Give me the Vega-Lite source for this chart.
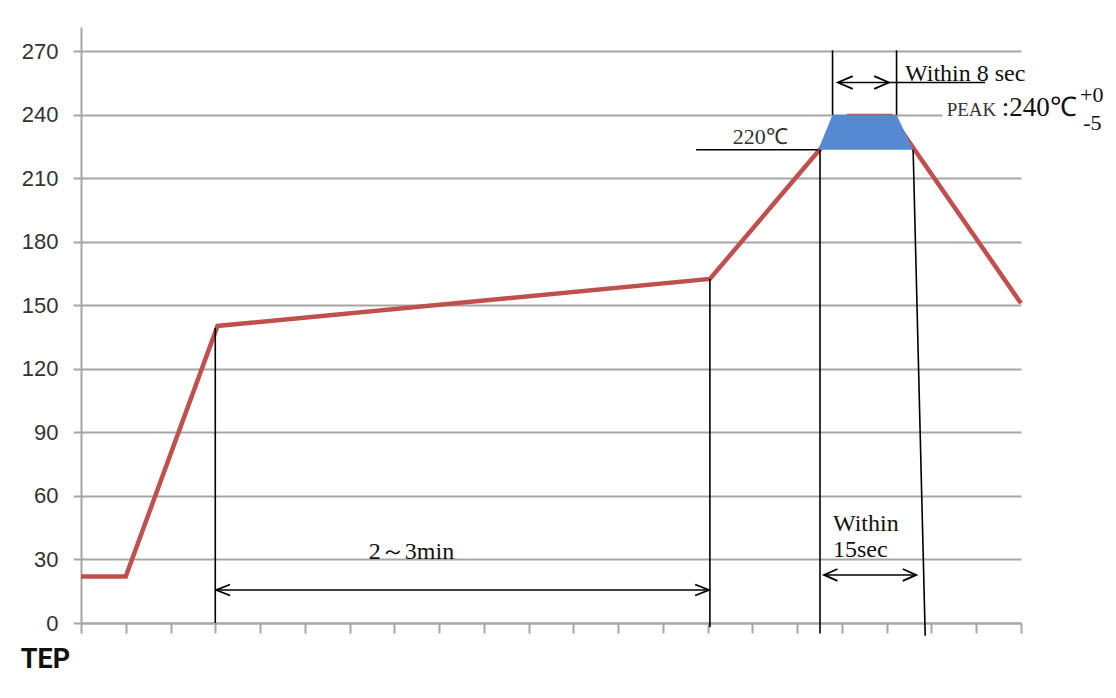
{
  "$schema": "https://vega.github.io/schema/vega-lite/v6.json",
  "width": 940,
  "height": 596,
  "autosize": {"type": "none"},
  "padding": {"left": 81, "top": 27, "right": 95, "bottom": 75},
  "background": "white",
  "config": {"view": {"stroke": null}},
  "layer": [
    {
      "data": {"values": [
        {"t": 0, "temp": 22}, {"t": 1, "temp": 22}, {"t": 3.05, "temp": 140.3},
        {"t": 14.05, "temp": 162.5}, {"t": 17.14, "temp": 239.5}, {"t": 18.1, "temp": 239.5},
        {"t": 21, "temp": 151}
      ]},
      "mark": {"type": "line", "color": "#c0504d", "strokeWidth": 4.5, "strokeJoin": "miter"},
      "encoding": {
        "x": {"field": "t", "type": "quantitative",
          "scale": {"domain": [0, 21], "nice": false, "zero": false},
          "axis": {"values": [0,1,2,3,4,5,6,7,8,9,10,11,12,13,14,15,16,17,18,19,20,21],
            "labels": false, "grid": false, "tickSize": 10, "tickColor": "#a6a6a6", "tickWidth": 2,
            "domainColor": "#a6a6a6", "domainWidth": 2,
            "title": "TEP", "titleX": -36, "titleY": 36, "titleAlign": "center", "titleBaseline": "middle",
            "titleFont": "Roboto", "titleFontWeight": "bold", "titleFontSize": 27, "titleColor": "#111111"}},
        "y": {"field": "temp", "type": "quantitative",
          "scale": {"domain": [0, 281.5], "nice": false, "zero": false},
          "axis": {"values": [0,30,60,90,120,150,180,210,240,270], "grid": true, "gridColor": "#a6a6a6", "gridWidth": 2,
            "tickSize": 8, "tickColor": "#a6a6a6", "tickWidth": 2, "domainColor": "#a6a6a6", "domainWidth": 2,
            "labelFont": "Liberation Sans", "labelFontSize": 22, "labelColor": "#333333", "labelPadding": 15, "title": null}}
      }
    },
    {
      "data": {"values": [
        {"t": 16.47, "top": 223.5, "base": 223.5}, {"t": 16.79, "top": 240, "base": 223.5},
        {"t": 18.22, "top": 240, "base": 223.5}, {"t": 18.59, "top": 223.5, "base": 223.5}
      ]},
      "mark": {"type": "area", "color": "#558ad3", "opacity": 1},
      "encoding": {
        "x": {"field": "t", "type": "quantitative"},
        "y": {"field": "top", "type": "quantitative"},
        "y2": {"field": "base"}
      }
    },
    {
      "data": {"values": [
        {"x1": 3.0, "x2": 3.0, "y1": 139.5, "y2": 0},
        {"x1": 14.05, "x2": 14.05, "y1": 162.5, "y2": -2},
        {"x1": 16.51, "x2": 16.51, "y1": 223.5, "y2": -5},
        {"x1": 18.59, "x2": 18.86, "y1": 223.5, "y2": -6},
        {"x1": 16.79, "x2": 16.79, "y1": 240, "y2": 270.5},
        {"x1": 18.22, "x2": 18.22, "y1": 240, "y2": 270.5},
        {"x1": 13.74, "x2": 16.47, "y1": 223.5, "y2": 223.5},
        {"x1": 3.02, "x2": 14.03, "y1": 15.6, "y2": 15.6},
        {"x1": 16.6, "x2": 18.66, "y1": 22.7, "y2": 22.7},
        {"x1": 16.91, "x2": 20.2, "y1": 255.3, "y2": 255.3}
      ]},
      "mark": {"type": "rule", "color": "#000000", "strokeWidth": 1.6},
      "encoding": {
        "x": {"field": "x1", "type": "quantitative"},
        "x2": {"field": "x2"},
        "y": {"field": "y1", "type": "quantitative"},
        "y2": {"field": "y2"}
      }
    },
    {
      "data": {"values": [
        {"g": "a1", "o": 0, "t": 3.33, "v": 18.2}, {"g": "a1", "o": 1, "t": 3.02, "v": 15.6}, {"g": "a1", "o": 2, "t": 3.33, "v": 13.0},
        {"g": "a2", "o": 0, "t": 13.72, "v": 18.2}, {"g": "a2", "o": 1, "t": 14.03, "v": 15.6}, {"g": "a2", "o": 2, "t": 13.72, "v": 13.0},
        {"g": "a3", "o": 0, "t": 16.9, "v": 25.5}, {"g": "a3", "o": 1, "t": 16.6, "v": 22.7}, {"g": "a3", "o": 2, "t": 16.9, "v": 19.9},
        {"g": "a4", "o": 0, "t": 18.36, "v": 25.5}, {"g": "a4", "o": 1, "t": 18.66, "v": 22.7}, {"g": "a4", "o": 2, "t": 18.36, "v": 19.9},
        {"g": "a5", "o": 0, "t": 17.24, "v": 258.3}, {"g": "a5", "o": 1, "t": 16.91, "v": 255.3}, {"g": "a5", "o": 2, "t": 17.24, "v": 252.3},
        {"g": "a6", "o": 0, "t": 17.72, "v": 258.3}, {"g": "a6", "o": 1, "t": 18.05, "v": 255.3}, {"g": "a6", "o": 2, "t": 17.72, "v": 252.3}
      ]},
      "mark": {"type": "line", "color": "#000000", "strokeWidth": 1.8},
      "encoding": {
        "x": {"field": "t", "type": "quantitative"},
        "y": {"field": "v", "type": "quantitative"},
        "detail": {"field": "g"},
        "order": {"field": "o"}
      }
    },
    {
      "data": {"values": [{"a": 19.25, "b": 21.1, "c": 237.3, "d": 242.7}]},
      "mark": {"type": "rect", "color": "#ffffff"},
      "encoding": {
        "x": {"field": "a", "type": "quantitative"}, "x2": {"field": "b"},
        "y": {"field": "c", "type": "quantitative"}, "y2": {"field": "d"}
      }
    },
    {
      "data": {"values": [
        {"t": 6.43, "v": 30, "label": "2～3min"},
        {"t": 16.8, "v": 43.5, "label": "Within"},
        {"t": 16.8, "v": 31, "label": "15sec"},
        {"t": 18.41, "v": 256.2, "label": "Within 8 sec"}
      ]},
      "mark": {"type": "text", "align": "left", "baseline": "alphabetic", "font": "Liberation Serif", "fontSize": 24, "color": "#111111"},
      "encoding": {
        "x": {"field": "t", "type": "quantitative"},
        "y": {"field": "v", "type": "quantitative"},
        "text": {"field": "label"}
      }
    },
    {
      "data": {"values": [{"t": 14.56, "v": 226.3, "label": "220℃"}]},
      "mark": {"type": "text", "align": "left", "baseline": "alphabetic", "font": "Liberation Serif", "fontSize": 22, "color": "#333333"},
      "encoding": {
        "x": {"field": "t", "type": "quantitative"},
        "y": {"field": "v", "type": "quantitative"},
        "text": {"field": "label"}
      }
    },
    {
      "data": {"values": [{"t": 19.34, "v": 239.6, "label": "PEAK"}]},
      "mark": {"type": "text", "align": "left", "baseline": "alphabetic", "font": "Liberation Serif", "fontSize": 19, "color": "#333333"},
      "encoding": {
        "x": {"field": "t", "type": "quantitative"},
        "y": {"field": "v", "type": "quantitative"},
        "text": {"field": "label"}
      }
    },
    {
      "data": {"values": [{"t": 20.57, "v": 239.6, "label": ":240℃"}]},
      "mark": {"type": "text", "align": "left", "baseline": "alphabetic", "font": "Liberation Serif", "fontSize": 27, "color": "#111111"},
      "encoding": {
        "x": {"field": "t", "type": "quantitative"},
        "y": {"field": "v", "type": "quantitative"},
        "text": {"field": "label"}
      }
    },
    {
      "data": {"values": [{"t": 22.32, "v": 246, "label": "+0"}, {"t": 22.39, "v": 232.9, "label": "-5"}]},
      "mark": {"type": "text", "align": "left", "baseline": "alphabetic", "font": "Liberation Serif", "fontSize": 22, "color": "#111111"},
      "encoding": {
        "x": {"field": "t", "type": "quantitative"},
        "y": {"field": "v", "type": "quantitative"},
        "text": {"field": "label"}
      }
    }
  ]
}
